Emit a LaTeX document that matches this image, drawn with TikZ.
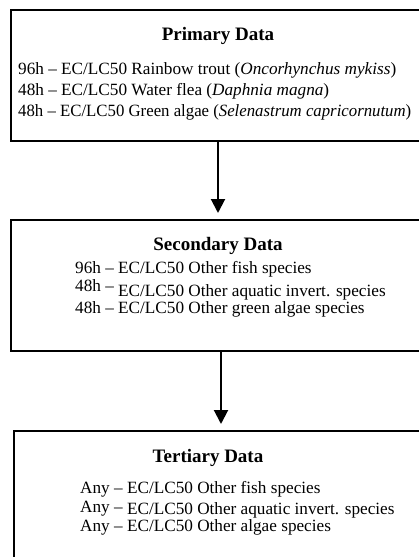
\documentclass[tikz,border=0pt]{standalone}
\usepackage{fontspec}
\setmainfont{Liberation Serif}
\usetikzlibrary{arrows.meta}
\begin{document}
\begin{tikzpicture}[x=1pt,y=-1pt,
  panel/.style={draw, line width=2.8pt, rectangle, anchor=north west, inner sep=0pt, outer sep=0pt},
  head/.style={font=\fontsize{19}{22}\selectfont\bfseries, anchor=base, inner sep=0pt},
  entry/.style={font=\fontsize{17.2}{21}\selectfont, anchor=base west, inner sep=0pt},
  flow/.style={line width=2pt, shorten <=1pt, shorten >=7pt, -{Triangle[length=14pt,width=14pt]}}]
\useasboundingbox (0,0) rectangle (419,557);
\clip (0,0) rectangle (419,557);

% the three data tiers, running off the right edge
\node[panel, minimum width=440pt, minimum height=131pt] (prim) at (11,10) {};
\node[panel, minimum width=440pt, minimum height=131pt] (sec) at (11,220) {};
\node[panel, minimum width=440pt, minimum height=200pt] (tert) at (14,431) {};

% primary data
\node[head] (primhead) at (218,40) {Primary Data};
\node[entry] (p1) at (18,74) {96h – EC/LC50 Rainbow trout (\textit{Oncorhynchus mykiss})};
\node[entry] (p2) at (18,95) {48h – EC/LC50 Water flea (\textit{Daphnia magna})};
\node[entry] (p3) at (18,116) {\scalebox{0.975}[1]{48h – EC/LC50 Green algae (\textit{Selenastrum capricornutum})}};

% secondary data
\node[head] (sechead) at (218,250) {Secondary Data};
\node[entry] (s1) at (75,273) {96h – EC/LC50 Other fish species};
\node[entry] (s2) at (75,296) {\raisebox{5pt}{48h –} EC/LC50 Other aquatic invert. species};
\node[entry] (s3) at (75,313) {48h – EC/LC50 Other green algae species};

% tertiary data
\node[head] (terthead) at (208,462) {Tertiary Data};
\node[entry] (t1) at (80,493) {Any – EC/LC50 Other fish species};
\node[entry] (t2) at (80,514) {\raisebox{2pt}{Any –} EC/LC50 Other aquatic invert. species};
\node[entry] (t3) at (80,531) {Any – EC/LC50 Other algae species};

% connectors between tiers
\coordinate (ax1) at (218,0);
\coordinate (ax2) at (221,0);
\draw[flow] (prim.south -| ax1) -- (sec.north -| ax1);
\draw[flow] (sec.south -| ax2) -- (tert.north -| ax2);
\end{tikzpicture}
\end{document}
